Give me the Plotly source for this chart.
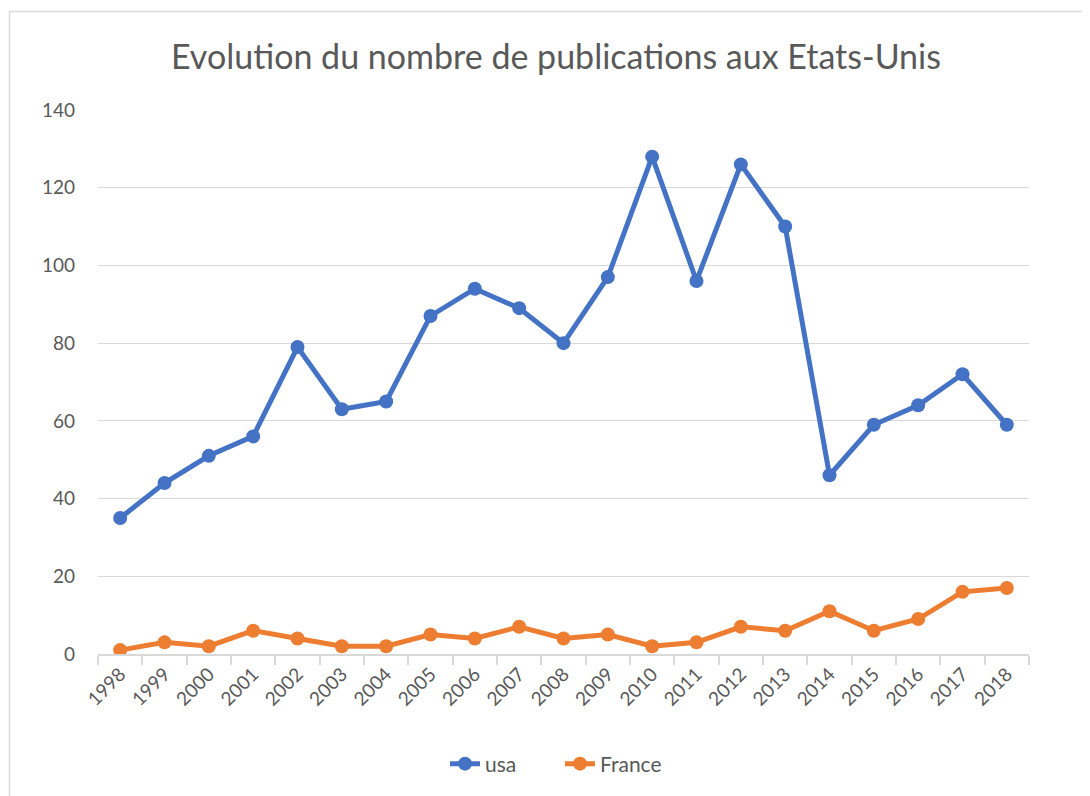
import plotly.graph_objects as go

years = [str(y) for y in range(1998, 2019)]
usa = [35, 44, 51, 56, 79, 63, 65, 87, 94, 89, 80, 97, 128, 96, 126, 110, 46, 59, 64, 72, 59]
france = [1, 3, 2, 6, 4, 2, 2, 5, 4, 7, 4, 5, 2, 3, 7, 6, 11, 6, 9, 16, 17]
y_ticks = [0, 20, 40, 60, 80, 100, 120, 140]

BLUE = "#4472C4"
ORANGE = "#ED7D31"
TXT = "#595959"
GRID = "#D9D9D9"
FONT = "Lato, 'Open Sans', sans-serif"

fig = go.Figure()
fig.add_trace(go.Scatter(x=years, y=usa, name="usa", mode="lines+markers",
                         line=dict(color=BLUE, width=5),
                         marker=dict(color=BLUE, size=14)))
fig.add_trace(go.Scatter(x=years, y=france, name="France", mode="lines+markers",
                         line=dict(color=ORANGE, width=5),
                         marker=dict(color=ORANGE, size=14)))

OFF = 8  # page offset of the figure
W, H = 1090, 796
L, R, T, B = 98 - OFF, 1090 - (1029 - OFF), 110 - OFF, 796 - (654 - OFF)
pw, ph = W - L - R, H - T - B

def px_to_paper_x(px):
    return (px - OFF - L) / pw

def px_to_paper_y(py):
    return (H - B - (py - OFF)) / ph

fig.update_layout(
    width=W, height=H,
    margin=dict(l=L, r=R, t=T, b=B),
    paper_bgcolor="white", plot_bgcolor="white",
    font=dict(family=FONT, color=TXT, size=19),
    title=dict(text="Evolution du nombre de publications aux Etats-Unis",
               x=px_to_paper_x(556), xref="paper", xanchor="center",
               y=1 - (57 - OFF) / H, yanchor="middle",
               font=dict(size=34, color=TXT, family=FONT)),
    xaxis=dict(type="category", range=[-0.5, len(years) - 0.5],
               showgrid=False, showline=True, linecolor=GRID, linewidth=1.5,
               ticks="outside", tickson="boundaries", ticklen=9, tickcolor=GRID,
               tickwidth=1.5, tickangle=-45, tickfont=dict(size=19, color=TXT)),
    yaxis=dict(range=[0, 140], tickvals=y_ticks, showgrid=True, gridcolor=GRID,
               gridwidth=1.2, zeroline=False, showline=False, ticks="",
               ticklabelstandoff=22, tickfont=dict(size=19, color=TXT)),
    legend=dict(orientation="h", x=px_to_paper_x(560), xanchor="center",
                y=px_to_paper_y(764), yanchor="middle",
                font=dict(size=21, color=TXT), traceorder="normal",
                entrywidth=70, entrywidthmode="pixels"),
    showlegend=True,
    shapes=[dict(type="rect", xref="paper", yref="paper",
                 x0=px_to_paper_x(9.5), x1=px_to_paper_x(1110),
                 y0=px_to_paper_y(830), y1=px_to_paper_y(11.5),
                 line=dict(color="#D9D9D9", width=1.5), fillcolor="rgba(0,0,0,0)",
                 layer="below")],
)

fig.write_html("out.html")
